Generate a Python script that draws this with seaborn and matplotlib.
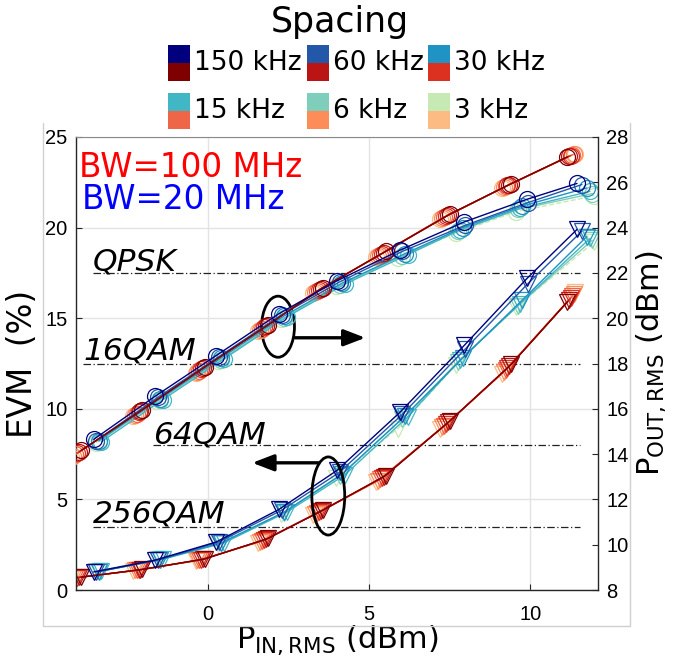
import matplotlib
matplotlib.use('Agg')
import matplotlib.pyplot as plt
import seaborn as sns
from matplotlib.patches import Ellipse, Rectangle
from matplotlib.lines import Line2D

sns.set_style('white')
plt.rcParams['font.family'] = ['Liberation Sans', 'DejaVu Sans']
plt.rcParams['mathtext.default'] = 'regular'
plt.rcParams['text.color'] = 'black'
plt.rcParams['axes.labelcolor'] = 'black'

# subcarrier spacings and their colours (20 MHz blues, 100 MHz reds)
espaciados = ['150 kHz', '60 kHz', '30 kHz', '15 kHz', '6 kHz', '3 kHz']
azules = ['#00007f', '#2358a8', '#1e93c4', '#41b6c4', '#7fcdbb', '#c7e9b4']
rojos = ['#7f0000', '#bb1414', '#dc3020', '#ef6548', '#fc8d59', '#fdbb84']

# BW = 100 MHz
pin_100 = [[-3.94, -2.04, -0.09, 1.86, 3.56, 5.51, 7.51, 9.41, 11.15],
           [-4.00, -2.10, -0.15, 1.80, 3.50, 5.45, 7.45, 9.35, 11.20],
           [-4.06, -2.16, -0.21, 1.74, 3.44, 5.39, 7.39, 9.29, 11.25],
           [-4.12, -2.22, -0.27, 1.68, 3.38, 5.33, 7.33, 9.23, 11.30],
           [-4.18, -2.28, -0.33, 1.62, 3.32, 5.27, 7.27, 9.17, 11.35],
           [-4.24, -2.34, -0.39, 1.56, 3.26, 5.21, 7.21, 9.11, 11.40]]
pout_100 = [[14.16, 15.96, 17.86, 19.70, 21.35, 22.95, 24.60, 25.94, 27.12],
            [14.10, 15.90, 17.80, 19.65, 21.30, 22.90, 24.55, 25.90, 27.15],
            [14.04, 15.84, 17.74, 19.60, 21.25, 22.85, 24.50, 25.86, 27.18],
            [13.99, 15.79, 17.69, 19.54, 21.20, 22.80, 24.46, 25.82, 27.21],
            [13.93, 15.73, 17.63, 19.49, 21.15, 22.76, 24.42, 25.77, 27.24],
            [13.87, 15.67, 17.57, 19.43, 21.10, 22.71, 24.37, 25.73, 27.27]]
evm_100 = [[0.71, 1.14, 1.72, 2.85, 4.41, 6.32, 9.34, 12.46, 15.90],
           [0.70, 1.12, 1.70, 2.80, 4.35, 6.25, 9.25, 12.35, 16.00],
           [0.69, 1.10, 1.68, 2.76, 4.29, 6.18, 9.16, 12.24, 16.10],
           [0.67, 1.09, 1.65, 2.71, 4.24, 6.11, 9.06, 12.13, 16.21],
           [0.66, 1.08, 1.63, 2.67, 4.18, 6.03, 8.97, 12.03, 16.32],
           [0.65, 1.06, 1.60, 2.62, 4.12, 5.96, 8.88, 11.92, 16.42]]

# BW = 20 MHz
pin_20 = [[-3.55, -1.65, 0.25, 2.20, 4.00, 5.95, 7.95, 9.90, 11.45],
          [-3.47, -1.57, 0.33, 2.28, 4.08, 6.03, 7.98, 9.92, 11.60],
          [-3.39, -1.49, 0.41, 2.36, 4.16, 6.11, 7.90, 9.75, 11.75],
          [-3.31, -1.41, 0.49, 2.44, 4.24, 6.19, 7.82, 9.68, 11.85],
          [-3.40, -1.50, 0.40, 2.34, 4.10, 6.02, 7.76, 9.62, 11.92],
          [-3.48, -1.58, 0.32, 2.26, 3.98, 5.88, 7.68, 9.55, 11.98]]
pout_20 = [[14.65, 16.55, 18.35, 20.20, 21.65, 23.00, 24.25, 25.25, 25.95],
           [14.60, 16.50, 18.30, 20.15, 21.60, 22.95, 24.10, 25.10, 25.90],
           [14.60, 16.45, 18.25, 20.10, 21.55, 22.85, 24.00, 24.95, 25.75],
           [14.55, 16.40, 18.20, 20.05, 21.50, 22.80, 23.90, 24.85, 25.60],
           [14.55, 16.40, 18.15, 20.00, 21.45, 22.75, 23.85, 24.80, 25.50],
           [14.50, 16.35, 18.10, 19.95, 21.40, 22.65, 23.75, 24.70, 25.40]]
evm_20 = [[1.00, 1.65, 2.65, 4.45, 6.60, 9.80, 13.50, 17.20, 19.90],
          [1.00, 1.65, 2.65, 4.40, 6.50, 9.70, 13.30, 16.90, 19.80],
          [1.02, 1.68, 2.60, 4.30, 6.40, 9.60, 12.80, 16.00, 19.50],
          [1.05, 1.70, 2.60, 4.30, 6.35, 9.55, 12.70, 15.80, 19.40],
          [1.05, 1.70, 2.60, 4.25, 6.30, 9.45, 12.60, 15.70, 19.30],
          [1.05, 1.70, 2.55, 4.20, 6.20, 8.90, 12.40, 15.60, 19.20]]

# modulation EVM limits
modulaciones = ['QPSK', '16QAM', '64QAM', '256QAM']
limites = [17.5, 12.5, 8.0, 3.5]
inicio_linea = [-3.57, -3.88, -1.70, -3.57]
texto_y = [17.65, 12.7, 8.1, 3.7]

fig = plt.figure(figsize=(6.75, 6.64), dpi=100)
ax = fig.add_axes([0.1126, 0.1114, 0.7733, 0.6823])
ax2 = ax.twinx()

ax.set_xlim(-4.1, 12.1)
ax.set_ylim(0, 25)
ax2.set_ylim(8, 28)

ax.grid(True, color='#e3e3e3', linewidth=1)
ax.set_axisbelow(True)

for y, x0 in zip(limites, inicio_linea):
    ax.plot([x0, 11.55], [y, y], color='#222222', linewidth=0.9,
            linestyle=(0, (6, 2, 1, 2)), zorder=1)

for i in reversed(range(6)):
    estilo = '--' if i == 5 else '-'
    for pin, pout, evm, col in [(pin_100[i], pout_100[i], evm_100[i], rojos[i]),
                                (pin_20[i], pout_20[i], evm_20[i], azules[i])]:
        sns.lineplot(x=pin, y=evm, ax=ax, color=col, linewidth=1.0, linestyle=estilo,
                     marker='v', markersize=11.5, markerfacecolor='none',
                     markeredgecolor=col, markeredgewidth=0.9, legend=False)
        sns.lineplot(x=pin, y=pout, ax=ax2, color=col, linewidth=1.0, linestyle=estilo,
                     marker='o', markersize=11.5, markerfacecolor='none',
                     markeredgecolor=col, markeredgewidth=0.9, legend=False)

# texts and annotations (in EVM coordinates)
t = ax.transData
ax2.text(-4.0, 22.8, 'BW=100 MHz', color='#ff0000', fontsize=23.5,
         family='DejaVu Sans', transform=t, va='baseline')
ax2.text(-3.91, 21.0, 'BW=20 MHz', color='#0000ff', fontsize=23.5,
         family='DejaVu Sans', transform=t, va='baseline')
for nombre, x0, y in zip(modulaciones, inicio_linea, texto_y):
    ax2.text(x0, y, nombre, fontsize=22.5, style='italic', family='DejaVu Sans',
             color='black', transform=t, va='baseline')

ax2.add_patch(Ellipse((2.17, 14.53), 1.02, 3.37, transform=t, fill=False,
                      edgecolor='black', linewidth=2))
ax2.add_patch(Ellipse((3.73, 5.19), 1.02, 4.31, transform=t, fill=False,
                      edgecolor='black', linewidth=2))
flecha = dict(arrowstyle='-|>,head_length=1.3,head_width=0.5',
              color='black', linewidth=2.4, shrinkA=0, shrinkB=0)
ax2.annotate('', xy=(4.88, 13.92), xytext=(2.70, 13.92), xycoords=t, textcoords=t,
             arrowprops=flecha)
ax2.annotate('', xy=(1.37, 7.02), xytext=(3.42, 7.02), xycoords=t, textcoords=t,
             arrowprops=flecha)

# axes style
ax.set_xticks([0, 5, 10])
ax.set_yticks([0, 5, 10, 15, 20, 25])
ax2.set_yticks(range(8, 29, 2))
ax.tick_params(direction='in', length=4, width=0.8, labelsize=14.5,
               left=True, bottom=True, colors='#262626', labelcolor='black')
ax.tick_params(axis='x', pad=11)
ax.tick_params(axis='y', pad=6)
ax2.tick_params(direction='in', length=4, width=0.8, labelsize=14.5, pad=6,
                right=True, colors='#262626', labelcolor='black')

for nombre in ['left', 'bottom']:
    ax.spines[nombre].set_color('#262626')
    ax.spines[nombre].set_linewidth(1.0)
ax.spines['right'].set_visible(False)
ax.spines['top'].set_color('#8a8a8a')
for nombre in ['left', 'bottom', 'top']:
    ax2.spines[nombre].set_visible(False)
ax2.spines['right'].set_color('#262626')
ax2.spines['right'].set_linewidth(1.0)

ax.set_xlabel('P$_{IN,RMS}$ (dBm)', fontsize=22, family='DejaVu Sans')
ax.xaxis.set_label_coords(0.5, -0.11)
ax.xaxis.label.set_va('center')
ax.set_ylabel('EVM  (%)', fontsize=23.5, family='DejaVu Sans', va='center')
ax.yaxis.set_label_coords(-0.103, 0.5)
ax2.set_ylabel('P$_{OUT,RMS}$ (dBm)', fontsize=22, family='DejaVu Sans',
               va='center', rotation=90)
ax2.yaxis.set_label_coords(1.103, 0.5)

# light outer frame
W, H = 675, 664
def fx(p):
    return p / W
def fy(p):
    return 1 - p / H
for xs, ys in [([43, 43], [123, 626]), ([43, 630], [626, 626]), ([630, 630], [123, 626])]:
    fig.add_artist(Line2D([fx(v) for v in xs], [fy(v) for v in ys],
                          color='#d0d0d0', linewidth=1, transform=fig.transFigure))

# legend: two-tone patch (20 MHz on top, 100 MHz below)
fig.text(fx(340), fy(22), 'Spacing', fontsize=25, family='DejaVu Sans',
         color='black', ha='center', va='center')
pos_x = [168, 307, 428]
pos_y = [45, 93]
for k, nombre in enumerate(espaciados):
    px = pos_x[k % 3]
    py = pos_y[k // 3]
    fig.add_artist(Rectangle((fx(px), fy(py + 18)), 22 / W, 18 / H,
                             facecolor=azules[k], edgecolor='none',
                             transform=fig.transFigure))
    fig.add_artist(Rectangle((fx(px), fy(py + 36)), 22 / W, 18 / H,
                             facecolor=rojos[k], edgecolor='none',
                             transform=fig.transFigure))
    fig.text(fx(px + 26), fy(py + 18), nombre, fontsize=19, family='DejaVu Sans',
             color='black', ha='left', va='center')

fig.savefig('out.png', dpi=100)
